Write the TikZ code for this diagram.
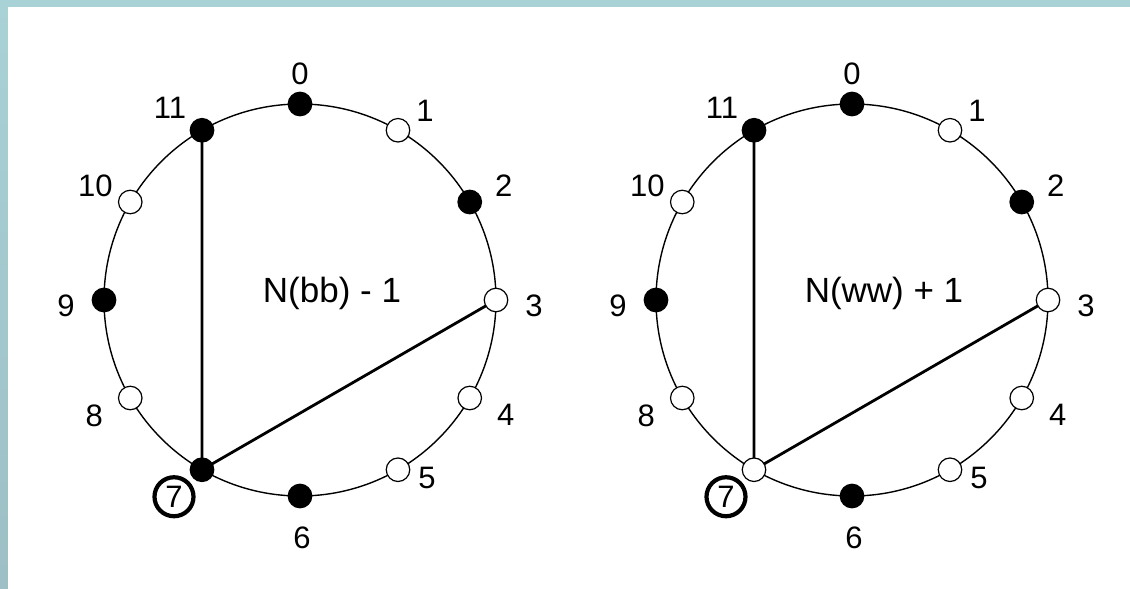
\documentclass[tikz,border=0pt]{standalone}
\usepackage{fontspec}
\setmainfont{Liberation Sans}
\tikzset{
  rim/.style={draw=black, line width=1.4pt},
  chord/.style={draw=black, line width=2.8pt},
  bdot/.style={circle, fill=black, draw=black, line width=1.2pt, minimum size=23.5pt, inner sep=0pt},
  wdot/.style={circle, fill=white, draw=black, line width=1.2pt, minimum size=23.5pt, inner sep=0pt},
  lab/.style={inner sep=0pt, font=\fontsize{31}{34}\selectfont},
  ring/.style={circle, draw=black, line width=4.2pt, minimum size=39pt, inner sep=0pt, font=\fontsize{31}{34}\selectfont},
  mid/.style={inner sep=0pt, anchor=base, font=\fontsize{35}{38}\selectfont}
}
\definecolor{bandtop}{HTML}{A9D2D6}
\definecolor{bandleft}{HTML}{9DBFC5}
\newcommand\mywheel[4]{%
  % #1 prefix, #2 centre x, #3 style of dot 7, #4 middle text
  \begin{scope}[shift={(#2,300)}]
    \coordinate (#1c) at (0,0);
    \draw[rim] (#1c) circle (196);
    \foreach \k in {0,...,11}{
      \coordinate (#1p\k) at ({196*cos(30*\k-90)},{196*sin(30*\k-90)});
    }
    \draw[chord] (#1p11) -- (#1p7) -- (#1p3);
    \foreach \k/\st in {0/bdot,1/wdot,2/bdot,3/wdot,4/wdot,5/wdot,6/bdot,7/#3,8/wdot,9/bdot,10/wdot,11/bdot}{
      \node[\st] (#1n\k) at (#1p\k) {};
    }
    \node[lab] (#1l0) at ([shift={(0,-30)}]#1p0) {0};
    \node[lab] (#1l1) at ([shift={(27,-19)}]#1p1) {1};
    \node[lab] (#1l2) at ([shift={(34,-16)}]#1p2) {2};
    \node[lab] (#1l3) at ([shift={(38,6)}]#1p3) {3};
    \node[lab] (#1l4) at ([shift={(36,17)}]#1p4) {4};
    \node[lab] (#1l5) at ([shift={(29,8)}]#1p5) {5};
    \node[lab] (#1l6) at ([shift={(2,42)}]#1p6) {6};
    \node[ring] (#1l7) at ([shift={(-28,27)}]#1p7) {7};
    \node[lab] (#1l8) at ([shift={(-36,18)}]#1p8) {8};
    \node[lab] (#1l9) at ([shift={(-38,6)}]#1p9) {9};
    \node[lab] (#1l10) at ([shift={(-35,-16)}]#1p10) {10};
    \node[lab] (#1l11) at ([shift={(-32,-22)}]#1p11) {11};
    \node[mid] (#1t) at (32,2) {#4};
  \end{scope}}
\begin{document}
\begin{tikzpicture}[x=1pt,y=-1pt]
  \useasboundingbox (0,0) rectangle (1130,589);
  \fill[bandtop] (0,0) rectangle (1130,7);
  \shade[top color=bandtop, bottom color=bandleft] (0,0) rectangle (8,589);
  \fill[white] (8,7) rectangle (1130,589);
  \mywheel{a}{300}{bdot}{N(bb) - 1}
  \mywheel{b}{852}{wdot}{N(ww) + 1}
\end{tikzpicture}
\end{document}
